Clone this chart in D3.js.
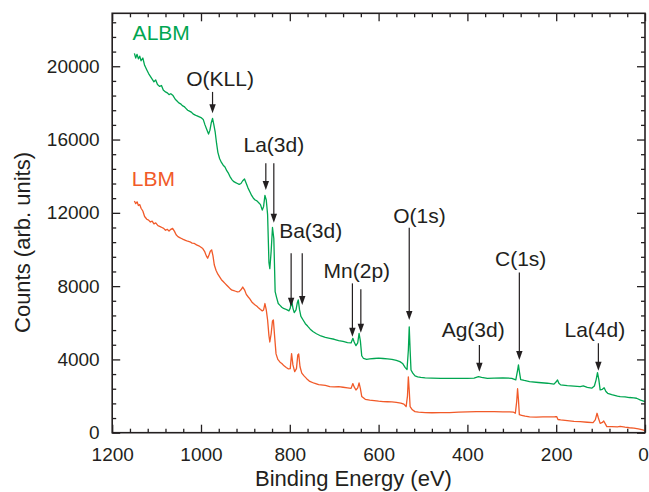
<!DOCTYPE html>
<html lang="en">
<head>
<meta charset="UTF-8" />
<title>XPS survey</title>
<script src="https://d3js.org/d3.v7.min.js"></script>
<style>
  body { margin: 0; background: #fff; }
  svg text { font-family: "Liberation Sans", Arial, Helvetica, sans-serif; fill: #231f20; }
  .axis path, .axis line { stroke: #231f20; }
  .axis line { stroke-width: 1.3; }
</style>
</head>
<body>
<div id="chart"></div>
<script>
// binding energy (eV), counts
const albm = [
  [1150, 20700], [1147, 20450], [1144, 20650], [1141, 20400], [1138, 20550], [1135, 20300],
  [1131, 20450], [1127, 20050], [1122, 19800], [1118, 19600], [1114, 19450], [1110, 19300],
  [1106, 19150], [1102, 19250], [1098, 19000], [1093, 18900], [1089, 18950], [1085, 18700],
  [1080, 18600], [1076, 18550], [1072, 18450], [1068, 18500], [1063, 18400], [1058, 18200],
  [1054, 18100], [1050, 18000], [1046, 17950], [1042, 17850], [1038, 17800], [1034, 17700],
  [1030, 17600], [1026, 17550], [1022, 17500], [1018, 17400], [1014, 17350], [1010, 17300],
  [1005, 17250], [1000, 17200], [995, 17100], [991, 16800], [987, 16550], [983, 16300],
  [980, 16500], [977, 16900], [974, 17150], [971, 16800], [968, 16400], [965, 15800],
  [962, 15300], [958, 14950], [954, 14750], [950, 14600], [946, 14500], [942, 14300],
  [938, 14150], [934, 13950], [930, 13800], [926, 13700], [922, 13650], [918, 13600],
  [914, 13550], [910, 13600], [906, 13750], [902, 13850], [898, 13600], [894, 13350],
  [890, 13150], [886, 12950], [882, 12800], [878, 12700], [874, 12650], [870, 12550],
  [866, 12450], [862, 12150], [859, 12350], [856, 12950], [853, 12700], [850, 11900],
  [847, 9300], [845, 8950], [842, 9900], [839, 11200], [836, 10600], [833, 7700],
  [830, 7400], [826, 7050], [822, 6950], [818, 6850], [814, 6780], [810, 6750],
  [806, 6700], [802, 6650], [799, 6800], [796, 7250], [793, 6800], [790, 6550],
  [786, 6700], [783, 7100], [781, 7250], [778, 6700], [775, 6350], [770, 6150],
  [765, 5950], [760, 5820], [754, 5650], [748, 5520], [740, 5400], [730, 5280],
  [720, 5200], [710, 5150], [700, 5100], [690, 5030], [680, 4980], [670, 4920],
  [662, 4900], [658, 5150], [655, 4950], [651, 4750], [647, 4900], [644, 5420],
  [641, 5000], [638, 4200], [634, 4050], [627, 4000], [620, 4030], [610, 4050],
  [600, 4070], [590, 4050], [580, 4030], [570, 4000], [560, 3950], [552, 3880],
  [546, 3780], [540, 3550], [536, 3450], [533, 4500], [531, 5780], [529, 4500],
  [527, 3420], [523, 3250], [518, 3100], [512, 3050], [505, 3020], [495, 2990],
  [480, 2980], [460, 2970], [440, 2960], [420, 2960], [400, 2970], [385, 2980],
  [375, 3060], [368, 3020], [355, 2960], [340, 2980], [320, 2990], [300, 2970],
  [291, 2880], [287, 3400], [285, 3700], [283, 3350], [280, 2900], [272, 2850],
  [260, 2790], [240, 2740], [220, 2700], [205, 2650], [200, 2780], [197, 2880],
  [194, 2700], [190, 2610], [175, 2570], [160, 2540], [146, 2510], [139, 2550],
  [130, 2470], [120, 2430], [114, 2550], [110, 2900], [107, 3280], [104, 2900],
  [101, 2340], [96, 2370], [92, 2450], [88, 2250], [84, 2150], [75, 2080],
  [62, 2000], [56, 1970], [45, 1960], [35, 1920], [25, 1900], [19, 1880],
  [10, 1780], [0, 1700]
];

const lbm = [
  [1150, 12650], [1147, 12500], [1144, 12600], [1141, 12400], [1138, 12450], [1135, 12250],
  [1131, 12100], [1127, 11800], [1122, 11650], [1118, 11600], [1114, 11500], [1110, 11550],
  [1106, 11400], [1102, 11450], [1097, 11300], [1092, 11250], [1088, 11200], [1084, 11150],
  [1080, 11050], [1076, 11100], [1072, 11000], [1068, 11100], [1064, 11150], [1060, 11000],
  [1056, 10800], [1052, 10700], [1048, 10650], [1044, 10600], [1040, 10550], [1035, 10500],
  [1030, 10450], [1025, 10420], [1020, 10350], [1015, 10330], [1010, 10250], [1005, 10200],
  [1000, 10120], [996, 10050], [992, 9900], [988, 9650], [985, 9520], [982, 9700],
  [979, 9900], [976, 9980], [973, 9650], [970, 9150], [966, 8850], [962, 8650],
  [958, 8500], [954, 8350], [950, 8250], [946, 8150], [942, 8050], [938, 7950],
  [934, 7850], [930, 7780], [926, 7750], [922, 7720], [918, 7690], [914, 7700],
  [910, 7800], [906, 7950], [902, 7800], [898, 7550], [894, 7420], [890, 7300],
  [886, 7150], [882, 7050], [878, 6970], [874, 6900], [870, 6800], [866, 6720],
  [862, 6650], [859, 6700], [856, 7050], [853, 6700], [850, 6150], [847, 5300],
  [845, 4950], [842, 5400], [839, 6100], [837, 6150], [834, 5200], [831, 4300],
  [827, 4000], [822, 3850], [818, 3780], [813, 3650], [808, 3560], [803, 3480],
  [799, 3500], [796, 4320], [793, 3700], [789, 3330], [785, 3500], [782, 4250],
  [780, 4300], [777, 3600], [773, 3250], [768, 3100], [762, 2950], [755, 2800],
  [745, 2700], [735, 2620], [720, 2580], [710, 2520], [700, 2500], [690, 2510],
  [680, 2480], [670, 2450], [662, 2420], [658, 2680], [655, 2500], [651, 2330],
  [647, 2450], [644, 2720], [641, 2400], [638, 1980], [630, 1820], [620, 1780],
  [610, 1750], [600, 1720], [590, 1700], [580, 1690], [570, 1680], [560, 1660],
  [550, 1620], [543, 1560], [538, 1420], [535, 2000], [533, 3050], [531, 2300],
  [529, 1420], [524, 1250], [518, 1150], [510, 1120], [495, 1100], [480, 1090],
  [460, 1100], [440, 1100], [420, 1120], [400, 1140], [380, 1150], [360, 1150],
  [340, 1150], [320, 1140], [305, 1140], [296, 1120], [292, 1060], [289, 1700],
  [287, 2400], [285, 1800], [283, 980], [278, 950], [270, 900], [260, 860],
  [245, 850], [230, 860], [215, 860], [203, 870], [199, 880], [196, 720],
  [190, 700], [175, 660], [160, 620], [146, 600], [130, 570], [117, 545],
  [112, 700], [108, 1060], [105, 800], [101, 510], [96, 560], [93, 640],
  [89, 470], [86, 330], [75, 330], [62, 320], [56, 340], [45, 300],
  [35, 270], [25, 250], [15, 210], [5, 150], [0, 110]
];

const xMajor = [1200, 1000, 800, 600, 400, 200, 0];
const yMajor = [0, 4000, 8000, 12000, 16000, 20000];

// peak labels: text position and arrows in (eV, counts)
const peakLabels = ["O(KLL)", "La(3d)", "Ba(3d)", "Mn(2p)", "O(1s)", "Ag(3d)", "C(1s)", "La(4d)"];
const labelAt = [[957, 18920], [836, 15330], [753, 10610], [649, 8430], [508, 11430], [387, 5240], [280, 9110], [113, 5240]];
const arrowsFor = [
  [[974, 18600, 17430]],
  [[854, 14700, 13240], [836, 14700, 11460]],
  [[797, 9790, 6880], [772, 9790, 6970]],
  [[659, 8150, 5240], [640, 7830, 5460]],
  [[531, 11190, 6150]],
  [[373, 4790, 3330]],
  [[283, 8750, 3970]],
  [[105, 4880, 3380]]
];

const seriesNames = ["ALBM", "LBM"];
const seriesColors = ["#00a651", "#f15a29"];
const seriesLabelAt = [[1154, 21430], [1156, 13460]];

const W = 649, H = 492;
const margin = { top: 13.3, right: 4, bottom: 59.3, left: 112.2 };
const width = W - margin.left - margin.right,
  height = H - margin.top - margin.bottom;

const svg = d3.select("#chart").append("svg")
  .attr("width", W).attr("height", H);
const g = svg.append("g")
  .attr("transform", "translate(" + margin.left + "," + margin.top + ")");

const x = d3.scaleLinear().domain([1200, 0]).range([0, width]);
const y = d3.scaleLinear().domain([0, 22890]).range([height, 0]);

const xMinor = d3.range(0, 1201, 40).filter(v => v % 200 !== 0);
const yMinor = d3.range(0, 22800, 800).filter(v => v % 4000 !== 0);

function ticks(axis, vals, size, showLabels, pad) {
  return axis.tickValues(vals).tickSize(size).tickPadding(pad || 3)
    .tickFormat(showLabels ? d3.format("d") : "");
}

// bottom
g.append("g").attr("class", "axis").attr("transform", "translate(0," + height + ")")
  .call(ticks(d3.axisBottom(x), xMajor, -8, true, 15))
  .call(s => s.select(".domain").remove())
  .selectAll("text").attr("font-size", 19)
  .attr("dx", d => d === 0 ? -2 : 0);
g.append("g").attr("class", "axis").attr("transform", "translate(0," + height + ")")
  .call(ticks(d3.axisBottom(x), xMinor, -4, false))
  .call(s => s.select(".domain").remove());
// top
g.append("g").attr("class", "axis")
  .call(ticks(d3.axisTop(x), xMajor, -8, false))
  .call(s => s.select(".domain").remove());
g.append("g").attr("class", "axis")
  .call(ticks(d3.axisTop(x), xMinor, -4, false))
  .call(s => s.select(".domain").remove());
// left
g.append("g").attr("class", "axis")
  .call(ticks(d3.axisLeft(y), yMajor, -8, true, 12.5))
  .call(s => s.select(".domain").remove())
  .selectAll("text").attr("font-size", 19);
g.append("g").attr("class", "axis")
  .call(ticks(d3.axisLeft(y), yMinor, -4, false))
  .call(s => s.select(".domain").remove());
// right
g.append("g").attr("class", "axis").attr("transform", "translate(" + width + ",0)")
  .call(ticks(d3.axisRight(y), yMajor, -8, false))
  .call(s => s.select(".domain").remove());
g.append("g").attr("class", "axis").attr("transform", "translate(" + width + ",0)")
  .call(ticks(d3.axisRight(y), yMinor, -4, false))
  .call(s => s.select(".domain").remove());

// spectra
const line = d3.line().x(d => x(d[0])).y(d => y(d[1]));
[albm, lbm].forEach((data, i) => {
  g.append("path").datum(data)
    .attr("fill", "none")
    .attr("stroke", seriesColors[i])
    .attr("stroke-width", 1.3)
    .attr("stroke-linejoin", "round")
    .attr("d", line);
  g.append("text")
    .attr("x", x(seriesLabelAt[i][0])).attr("y", y(seriesLabelAt[i][1]))
    .attr("font-size", 21)
    .style("fill", seriesColors[i])
    .text(seriesNames[i]);
});

// frame
g.append("rect")
  .attr("width", width).attr("height", height)
  .attr("fill", "none").attr("stroke", "#231f20").attr("stroke-width", 1.6);

// peak annotations
peakLabels.forEach((lab, i) => {
  g.append("text")
    .attr("x", x(labelAt[i][0])).attr("y", y(labelAt[i][1]))
    .attr("text-anchor", "middle").attr("font-size", 21)
    .text(lab);
  arrowsFor[i].forEach(a => {
    const ax = x(a[0]), y0 = y(a[1]), y1 = y(a[2]);
    g.append("line")
      .attr("x1", ax).attr("x2", ax).attr("y1", y0).attr("y2", y1 - 7)
      .attr("stroke", "#231f20").attr("stroke-width", 1.2);
    g.append("path")
      .attr("d", "M" + (ax - 3.2) + "," + (y1 - 9) + "L" + (ax + 3.2) + "," + (y1 - 9) + "L" + ax + "," + y1 + "Z")
      .attr("fill", "#231f20");
  });
});

// axis titles
svg.append("text")
  .attr("x", 353.5).attr("y", 486)
  .attr("text-anchor", "middle").attr("font-size", 22)
  .text("Binding Energy (eV)");
svg.append("text")
  .attr("transform", "translate(30,242.5) rotate(-90)")
  .attr("text-anchor", "middle").attr("font-size", 22)
  .text("Counts (arb. units)");
</script>
</body>
</html>
